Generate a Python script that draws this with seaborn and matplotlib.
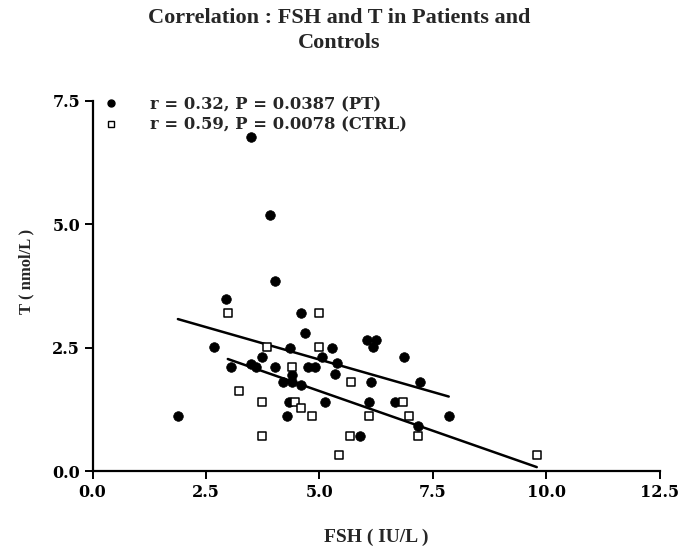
import numpy as np
import pandas as pd
import seaborn as sns
import matplotlib
matplotlib.use("Agg")
import matplotlib.pyplot as plt
from matplotlib.lines import Line2D

# ---- data ----
pt_fsh = [1.88, 2.67, 2.93, 3.05, 3.49, 3.49, 3.60, 3.73, 3.91, 4.02, 4.02, 4.19,
          4.28, 4.35, 4.40, 4.40, 4.33, 4.59, 4.59, 4.68, 4.75, 4.90, 5.05, 5.12,
          5.28, 5.34, 5.38, 5.89, 6.04, 6.24, 6.17, 6.13, 6.09, 6.66, 6.87, 7.17,
          7.21, 7.85]
pt_t = [1.12, 2.52, 3.49, 2.11, 6.78, 2.17, 2.11, 2.31, 5.19, 3.85, 2.11, 1.81,
        1.12, 2.50, 1.95, 1.81, 1.40, 3.20, 1.74, 2.80, 2.11, 2.11, 2.31, 1.40,
        2.49, 1.97, 2.19, 0.71, 2.66, 2.66, 2.52, 1.81, 1.40, 1.40, 2.31, 0.91,
        1.81, 1.12]

ctrl_fsh = [2.98, 3.22, 3.84, 3.73, 3.73, 4.40, 4.47, 4.99, 4.99, 4.60, 4.83,
            5.43, 5.67, 5.69, 6.09, 6.84, 6.97, 7.17, 9.79]
ctrl_t = [3.20, 1.62, 2.52, 1.40, 0.71, 2.11, 1.40, 3.20, 2.52, 1.28, 1.12,
          0.32, 0.71, 1.81, 1.12, 1.40, 1.12, 0.71, 0.32]

# regression lines (intercept, slope)
pt_fit = (3.574, -0.263)
ctrl_fit = (3.229, -0.3217)

legend_labels = ["r = 0.32, P = 0.0387 (PT)", "r = 0.59, P = 0.0078 (CTRL)"]
title = "Correlation : FSH and T in Patients and\nControls"
x_label = "FSH ( IU/L )"
y_label = "T ( nmol/L )"
x_ticks = [0.0, 2.5, 5.0, 7.5, 10.0, 12.5]
y_ticks = [0.0, 2.5, 5.0, 7.5]

sns.set_theme(style="ticks")
plt.rcParams["font.family"] = ["Liberation Serif", "DejaVu Serif"]
plt.rcParams["font.weight"] = "bold"
wide = ["DejaVu Serif"]

pt = pd.DataFrame({"FSH": pt_fsh, "T": pt_t})
ctrl = pd.DataFrame({"FSH": ctrl_fsh, "T": ctrl_t})

def fit_frame(xs, fit):
    x = np.array([min(xs), max(xs)])
    return pd.DataFrame({"FSH": x, "T": fit[0] + fit[1] * x})

fig = plt.figure(figsize=(6.78, 5.5), dpi=100)
ax = fig.add_axes([0.1366, 0.1436, 0.8364, 0.6728])

sns.lineplot(data=fit_frame(pt_fsh, pt_fit), x="FSH", y="T", color="black",
             lw=1.8, ax=ax)
sns.lineplot(data=fit_frame(ctrl_fsh, ctrl_fit), x="FSH", y="T", color="black",
             lw=1.8, ax=ax)
sns.scatterplot(data=pt, x="FSH", y="T", marker="o", s=48, color="black",
                edgecolor="black", linewidth=0.5, ax=ax, zorder=3)
sns.scatterplot(data=ctrl, x="FSH", y="T", marker="s", s=40, facecolor="white",
                edgecolor="black", linewidth=1.1, ax=ax, zorder=3)

ax.set_xlim(0, 12.5)
ax.set_ylim(0, 7.5)
ax.set_xticks(x_ticks)
ax.set_yticks(y_ticks)
ax.set_xticklabels([f"{v:.1f}" for v in x_ticks], fontsize=11.5,
                   fontweight="bold", family=wide)
ax.set_yticklabels([f"{v:.1f}" for v in y_ticks], fontsize=11.5,
                   fontweight="bold", family=wide)
for s in ["top", "right"]:
    ax.spines[s].set_visible(False)
for s in ["left", "bottom"]:
    ax.spines[s].set_linewidth(1.6)
    ax.spines[s].set_color("black")
ax.tick_params(axis="both", direction="out", length=6, width=1.4, colors="black",
               pad=3)

ax.set_xlabel(x_label, fontsize=14, fontweight="bold")
ax.set_ylabel(y_label, fontsize=12, fontweight="bold")
ax.xaxis.set_label_coords(0.50, -0.155)
ax.yaxis.set_label_coords(-0.103, 0.54)

fig.suptitle(title, x=0.50, y=0.985, fontsize=16, fontweight="bold",
             linespacing=1.3)

handles = [
    Line2D([], [], marker="o", ls="", color="black", markersize=5),
    Line2D([], [], marker="s", ls="", markerfacecolor="white",
           markeredgecolor="black", markersize=5, markeredgewidth=1),
]
ax.legend(handles, legend_labels, loc="upper left", bbox_to_anchor=(0.0, 1.04),
          frameon=False, handletextpad=1.9, handlelength=1.0, labelspacing=0.2,
          borderaxespad=0.2, prop={"weight": "bold", "size": 11.8,
                                   "family": wide})

fig.savefig("out.png", dpi=100)
